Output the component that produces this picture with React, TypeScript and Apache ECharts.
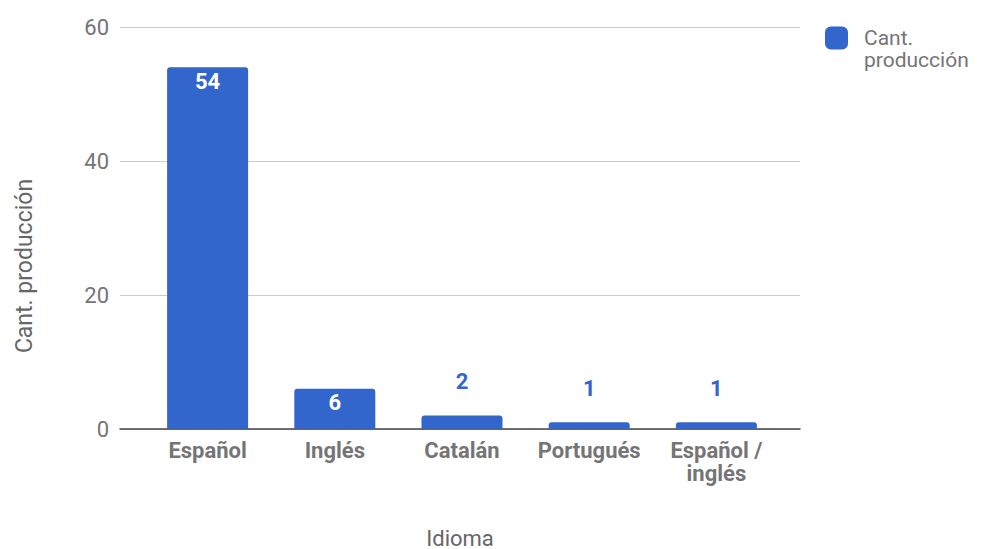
import React, { useEffect, useRef } from "react";
import * as echarts from "echarts";

const categories = ["Español", "Inglés", "Catalán", "Portugués", "Español / inglés"];
const values = [54, 6, 2, 1, 1];
const seriesName = "Cant. producción";
const xTitle = "Idioma";
const yTitle = "Cant. producción";
const yTicks = { min: 0, max: 60, interval: 20 };

const BLUE = "#3366cc";
const FONT = "Roboto";

export default function App() {
  const ref = useRef<HTMLDivElement>(null);
  useEffect(() => {
    if (!ref.current) return;
    const chart = echarts.init(ref.current, undefined, { renderer: "svg" });
    const data = values.map((v) => ({
      value: v,
      label:
        v >= 5
          ? { position: "insideTop", distance: 3, color: "#ffffff" }
          : { position: "top", distance: 23, color: BLUE },
    }));
    chart.setOption({
      animation: false,
      textStyle: { fontFamily: FONT },
      grid: [
        { left: 120, right: 181, top: 27, bottom: 120, outerBoundsMode: "none", containLabel: false },
        { left: 144, right: 201, top: 27, bottom: 120, outerBoundsMode: "none", containLabel: false },
      ],
      xAxis: [
        {
          gridIndex: 0,
          type: "value",
          min: 0,
          max: 1,
          axisLine: { show: true, onZero: false, lineStyle: { color: "#444", width: 1.5 } },
          axisTick: { show: false },
          axisLabel: { show: false },
          splitLine: { show: false },
          name: xTitle,
          nameLocation: "middle",
          nameGap: 99,
          nameTextStyle: {
            fontFamily: FONT,
            fontSize: 22,
            lineHeight: 20,
            color: "#666",
            verticalAlign: "top",
          },
        },
        {
          gridIndex: 1,
          type: "category",
          data: categories,
          axisLine: { show: false },
          axisTick: { show: false },
          axisLabel: {
            margin: 10,
            fontFamily: FONT,
            fontSize: 22,
            fontWeight: "bold",
            color: "#757575",
            lineHeight: 23,
            verticalAlign: "top",
            interval: 0,
            formatter: (v: string) => v.replace(" / ", " /\n"),
          },
        },
      ],
      yAxis: [
        {
          gridIndex: 0,
          type: "value",
          min: yTicks.min,
          max: yTicks.max,
          interval: yTicks.interval,
          axisLine: { show: false },
          axisTick: { show: false },
          axisLabel: { margin: 11, fontFamily: FONT, fontSize: 22, color: "#757575" },
          splitLine: { lineStyle: { color: "#cccccc", width: 1 } },
        },
        {
          gridIndex: 1,
          type: "value",
          min: yTicks.min,
          max: yTicks.max,
          interval: yTicks.interval,
          show: false,
          splitLine: { show: false },
        },
      ],
      legend: {
        show: true,
        left: 825,
        top: 5,
        padding: 0,
        icon: "roundRect",
        itemWidth: 23,
        itemHeight: 23,
        formatter: (n: string) => "\n" + n.replace(" ", "\n"),
        textStyle: {
          fontFamily: FONT,
          fontSize: 21,
          lineHeight: 22,
          color: "#757575",
          padding: [0, 0, 0, 11],
        },
        data: [seriesName],
      },
      graphic: [
        {
          type: "text",
          x: 24,
          y: 266,
          rotation: Math.PI / 2,
          style: {
            text: yTitle,
            fontFamily: FONT,
            fontSize: 23,
            fill: "#666",
            align: "center",
            verticalAlign: "middle",
          },
        },
      ],
      series: [
        {
          name: seriesName,
          type: "bar",
          xAxisIndex: 1,
          yAxisIndex: 1,
          barWidth: 81,
          itemStyle: { color: BLUE, borderRadius: [3, 3, 0, 0] },
          label: {
            show: true,
            fontFamily: FONT,
            fontSize: 22,
            fontWeight: "bold",
          },
          data,
        },
      ],
    });
    return () => chart.dispose();
  }, []);
  return (
    <div
      ref={ref}
      style={{ position: "fixed", left: 0, top: 0, width: 981, height: 549, background: "#fff" }}
    />
  );
}
